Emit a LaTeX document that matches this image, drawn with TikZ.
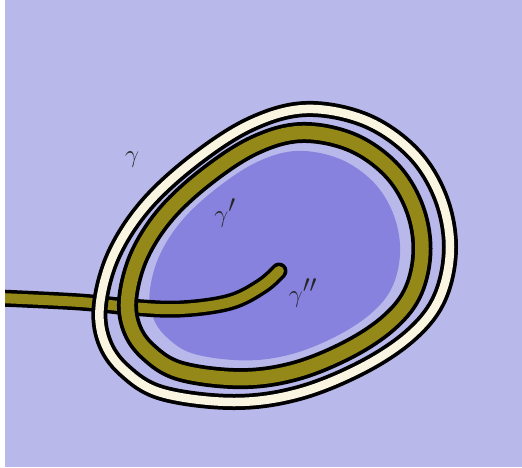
\documentclass[tikz,border=0pt]{standalone}
\definecolor{bgc}{HTML}{B9B8EB}
\definecolor{blobc}{HTML}{8782DE}
\definecolor{olivec}{HTML}{948818}
\definecolor{creamc}{HTML}{FAF5E1}
\tikzset{
  lbl/.style={font=\fontsize{35}{36}\selectfont, text=black!85},
}
\newcommand{\loopcoords}{(306,109) (251,124) (195,160) (146,205) (114,254) (100,304) (104,341) (124,370) (162,393) (234,402) (299,393) (363,367) (412,334) (440,297) (450,247) (440,196) (412,152) (365,120)}
\begin{document}
\begin{tikzpicture}[x=1pt,y=-1pt]
\useasboundingbox (0,0) rectangle (522,467);
\fill[bgc] (5,0) rectangle (522,467);
% inner region
\begin{scope}[shift={(275,256)}, scale=0.715, shift={(-275,-256)}]
  \fill[blobc] plot[smooth cycle, tension=0.6] coordinates {\loopcoords};
\end{scope}
% tail
\begin{scope}
  \clip (5,0) rectangle (522,467);
  \draw[line width=17pt, line cap=round] plot[smooth, tension=0.6] coordinates {(0,298) (80,302) (130,307) (180,309) (230,302) (262,286) (279,271)};
  \draw[line width=10pt, line cap=round, olivec] plot[smooth, tension=0.6] coordinates {(0,298) (80,302) (130,307) (180,309) (230,302) (262,286) (279,271)};
\end{scope}
% olive ring
\begin{scope}[shift={(275,256)}, scale=0.84, shift={(-275,-256)}]
  \draw[line width=21pt] plot[smooth cycle, tension=0.6] coordinates {\loopcoords};
  \draw[line width=13.5pt, olivec] plot[smooth cycle, tension=0.6] coordinates {\loopcoords};
\end{scope}
% cream ring
\draw[line width=16pt] plot[smooth cycle, tension=0.6] coordinates {\loopcoords};
\draw[line width=8.5pt, creamc] plot[smooth cycle, tension=0.6] coordinates {\loopcoords};
% labels
\node[lbl] (g1) at (132,160) {$\gamma$};
\node[lbl] (g2) at (225,213) {$\gamma'$};
\node[lbl] (g3) at (303,293) {$\gamma''$};
\end{tikzpicture}
\end{document}
